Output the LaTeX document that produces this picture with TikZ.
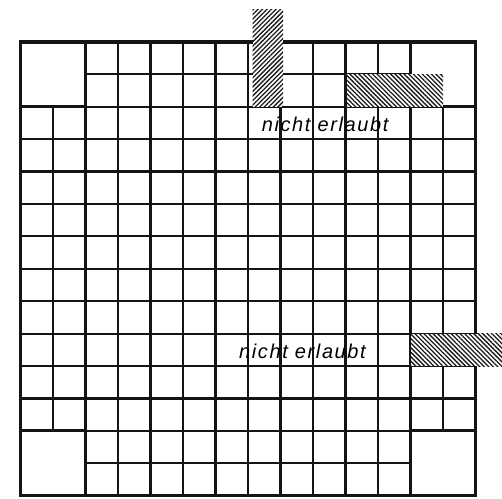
\documentclass[tikz,border=0pt]{standalone}
\usepackage{fontspec}
\newfontfamily\lblfont[LetterSpace=8]{Liberation Sans}
\usetikzlibrary{patterns.meta}
\begin{document}
\begin{tikzpicture}[x=1pt,y=1pt,
  gridline/.style={line width=2.2pt, line cap=rect, draw=black!92},
  frameline/.style={line width=3.2pt, line cap=rect, draw=black!92},
  hatchfill/.style={pattern={Lines[angle=#1,distance=3.2pt,line width=1.3pt]}, pattern color=black!90},
  lbl/.style={inner sep=0pt, anchor=base west, font=\lblfont\itshape\fontsize{20}{22}\selectfont}]
\useasboundingbox (0,0) rectangle (502,498);
\begin{scope}[shift={(20.5,456)}, x=32.5pt, y=-32.4pt]
  % vertical lines
  \foreach \k in {2,...,12} \draw[gridline] (\k,0) -- (\k,14);
  \foreach \k in {1,13} \draw[gridline] (\k,2) -- (\k,12);
  % horizontal lines
  \foreach \r in {2,...,12} \draw[gridline] (0,\r) -- (14,\r);
  \foreach \r in {1,13} \draw[gridline] (2,\r) -- (12,\r);
  % corner squares
  \draw[frameline] (0,0) rectangle (2,2);
  \draw[frameline] (12,0) rectangle (14,2);
  \draw[frameline] (0,12) rectangle (2,14);
  \draw[frameline] (12,12) rectangle (14,14);
  % outer frame
  \draw[frameline] (0,0) rectangle (14,14);
\end{scope}
% hatched (forbidden) pieces
\fill[white] (252.5,488) rectangle (283,391.2);
\fill[hatchfill=45] (252.5,488) rectangle (283,391.2);
\fill[white] (346.5,423.6) rectangle (443,391.2);
\fill[hatchfill=-45] (346.5,423.6) rectangle (443,391.2);
\fill[white] (411,164.4) rectangle (510,132);
\fill[hatchfill=-45] (411,164.4) rectangle (510,132);
% labels
\node[lbl] (lblA) at (261.7,366.3) {nicht erlaubt};
\node[lbl] (lblB) at (239,139.7) {nicht erlaubt};
\end{tikzpicture}
\end{document}
